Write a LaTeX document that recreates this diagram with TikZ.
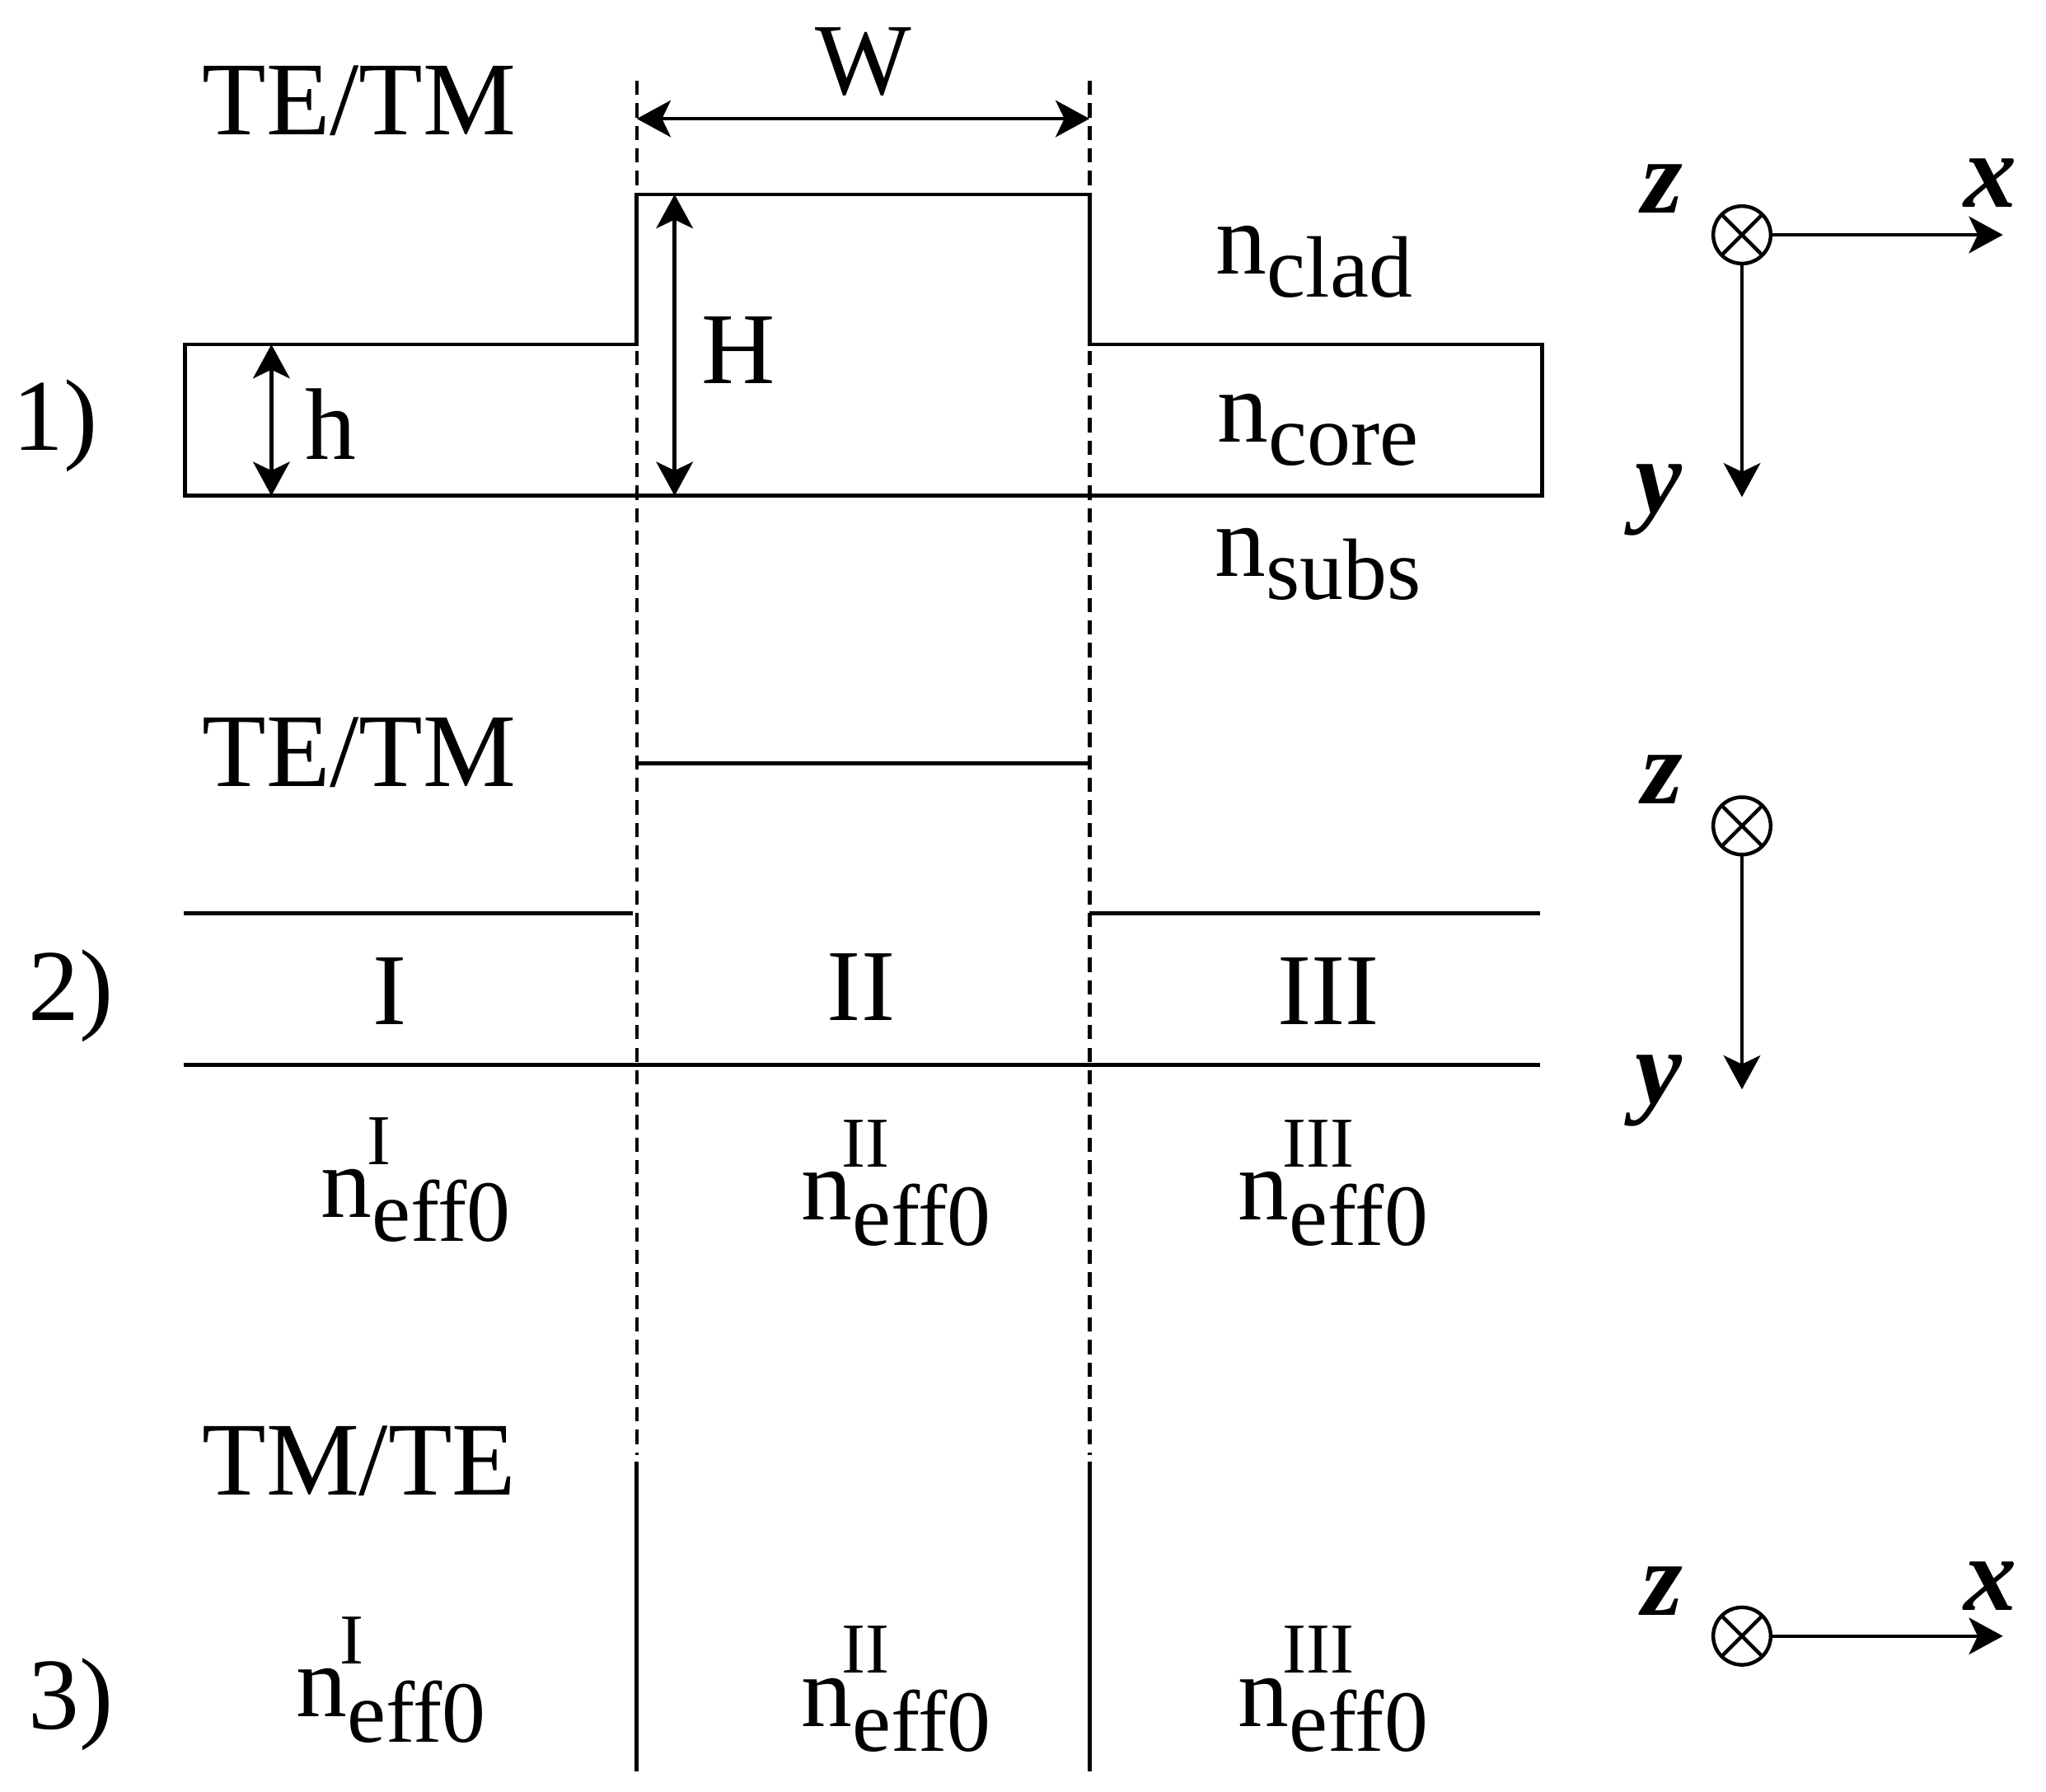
\documentclass[tikz,border=0pt]{standalone}
\usepackage{fontspec}
\setmainfont{Liberation Serif}
\usetikzlibrary{arrows.meta,positioning}

\newcommand{\bigsize}{\fontsize{22.2pt}{24pt}\selectfont}
\newcommand{\subsize}{\fontsize{19pt}{21pt}\selectfont}
\newcommand{\supsize}{\fontsize{15.6pt}{17pt}\selectfont}
% index text under the n, optional upper text over it
\newcommand{\nlow}[1]{n\raisebox{-5pt}{\subsize #1}}
\newcommand{\neff}[3]{n\rlap{\kern#3pt\raisebox{11.5pt}{\supsize #1}}\raisebox{#2pt}{\subsize eff0}}

\tikzset{
  lbl/.style={inner sep=0pt,outer sep=0pt,anchor=base west,font=\bigsize},
  modelbl/.style={lbl,font=\fontsize{22.8pt}{24pt}\selectfont},
  axlbl/.style={inner sep=0pt,outer sep=0pt,anchor=base west,font=\fontsize{23pt}{25pt}\selectfont\bfseries\itshape},
  wall/.style={line width=0.85pt},
  guide/.style={line width=0.75pt,dash pattern=on 3.1pt off 1.8pt},
  dimarrow/.style={line width=0.8pt,{Stealth[length=7.4pt,width=8pt,inset=1.9pt]}-{Stealth[length=7.4pt,width=8pt,inset=1.9pt]}},
  axarrow/.style={line width=0.8pt,-{Stealth[length=7.4pt,width=8pt,inset=1.9pt]}},
  zdot/.style={circle,draw,line width=0.8pt,minimum size=0.44cm,inner sep=0pt,outer sep=0pt,
    path picture={\draw[line width=0.8pt] (path picture bounding box.south west) -- (path picture bounding box.north east)
      (path picture bounding box.north west) -- (path picture bounding box.south east);}},
}

\begin{document}
\begin{tikzpicture}[x=0.01cm,y=-0.01cm]
 \useasboundingbox (0,0) rectangle (1568,1373);
 % guides
 \coordinate (gl1) at (488,62);
 \coordinate (gl2) at (488,1115);
 \coordinate[right=3.47cm of gl1] (gr1);
 \coordinate[right=3.47cm of gl2] (gr2);
 \draw[guide] (gl1) -- (gl2);
 \draw[guide] (gr1) -- (gr2);
 %
 % 1) rib
 \coordinate (a1) at (142,380);
 \coordinate (a2) at (142,264);
 \coordinate (a3) at (488,264);
 \coordinate (a4) at (488,149);
 \coordinate (a5) at (835,149);
 \coordinate (a6) at (835,264);
 \coordinate (a7) at (1182,264);
 \coordinate (a8) at (1182,380);
 \draw[wall] (a1) -- (a2) -- (a3) -- (a4) -- (a5) -- (a6) -- (a7) -- (a8) -- cycle;
 \coordinate (w1) at (488,91);
 \coordinate (w2) at (835,91);
 \draw[dimarrow] (w1) -- (w2);
 \coordinate (hh1) at (517,149);
 \coordinate (hh2) at (517,380);
 \draw[dimarrow] (hh1) -- (hh2);
 \coordinate (h1) at (208,264);
 \coordinate (h2) at (208,380);
 \draw[dimarrow] (h1) -- (h2);
 \node[modelbl] (tt1) at (155,103) {TE/TM};
 \node[lbl,anchor=base] (wlab) at (662,72) {W};
 \node[lbl] (hhlab) at (538,294) {H};
 \node[lbl] (hlab) at (234,352) {h};
 \node[lbl] (nclad) at (932,210) {\nlow{clad}};
 \node[lbl] (ncore) at (933,339) {\nlow{core}};
 \node[lbl] (nsubs) at (931,442) {\nlow{subs}};
 \node[lbl] (num1) at (10,345) {1)};
 %
 % 2) slab
 \coordinate (b1) at (141,700);
 \coordinate (b2) at (485,700);
 \coordinate (b3) at (835,700);
 \coordinate (b4) at (1180,700);
 \coordinate (b5) at (141,816);
 \coordinate (b6) at (1180,816);
 \coordinate (b7) at (488,585);
 \coordinate (b8) at (835,585);
 \draw[wall] (b1) -- (b2);
 \draw[wall] (b3) -- (b4);
 \draw[wall] (b5) -- (b6);
 \draw[wall] (b7) -- (b8);
 \node[modelbl] (tt2) at (155,603) {TE/TM};
 \node[lbl] (num2) at (22,782) {2)};
 \node[lbl,anchor=base] (r1) at (299,785) {I};
 \node[lbl,anchor=base] (r2) at (660,782) {II};
 \node[lbl,anchor=base] (r3) at (1018,785) {III};
 \node[lbl] (ea1) at (246,933) {\neff{I}{-5.2}{-1}};
 \node[lbl] (ea2) at (614,935) {\neff{II}{-5.5}{-2.2}};
 \node[lbl] (ea3) at (949,935) {\neff{III}{-5.5}{-1.5}};
 %
 % 3) columns
 \coordinate (c1) at (488,1120);
 \coordinate (c2) at (488,1358);
 \coordinate (c3) at (835,1120);
 \coordinate (c4) at (835,1358);
 \draw[wall] (c1) -- (c2);
 \draw[wall] (c3) -- (c4);
 \node[modelbl] (tt3) at (155,1146) {TM/TE};
 \node[lbl] (num3) at (22,1325) {3)};
 \node[lbl] (eb1) at (227,1316) {\neff{I}{-5.5}{-1.5}};
 \node[lbl] (eb2) at (614,1323) {\neff{II}{-5.5}{-2.2}};
 \node[lbl] (eb3) at (949,1323) {\neff{III}{-5.5}{-1.5}};
 %
 % axes
 \node[zdot] (za) at (1335,180) {};
 \node[zdot] (zb) at (1335,633) {};
 \node[zdot] (zc) at (1335,1254) {};
 \coordinate (xa) at (1535,180);
 \coordinate (ya) at (1335,381);
 \coordinate (yb) at (1335,835);
 \coordinate (xc) at (1535,1254);
 \draw[axarrow] (za) -- (xa);
 \draw[axarrow] (za) -- (ya);
 \draw[axarrow] (zb) -- (yb);
 \draw[axarrow] (zc) -- (xc);
 \node[axlbl] (lza) at (1258,163) {z};
 \node[axlbl] (lxa) at (1505,159) {x};
 \node[axlbl] (lya) at (1253,393) {y};
 \node[axlbl] (lzb) at (1258,616) {z};
 \node[axlbl] (lyb) at (1253,846) {y};
 \node[axlbl] (lzc) at (1258,1238) {z};
 \node[axlbl] (lxc) at (1505,1234) {x};
\end{tikzpicture}
\end{document}
